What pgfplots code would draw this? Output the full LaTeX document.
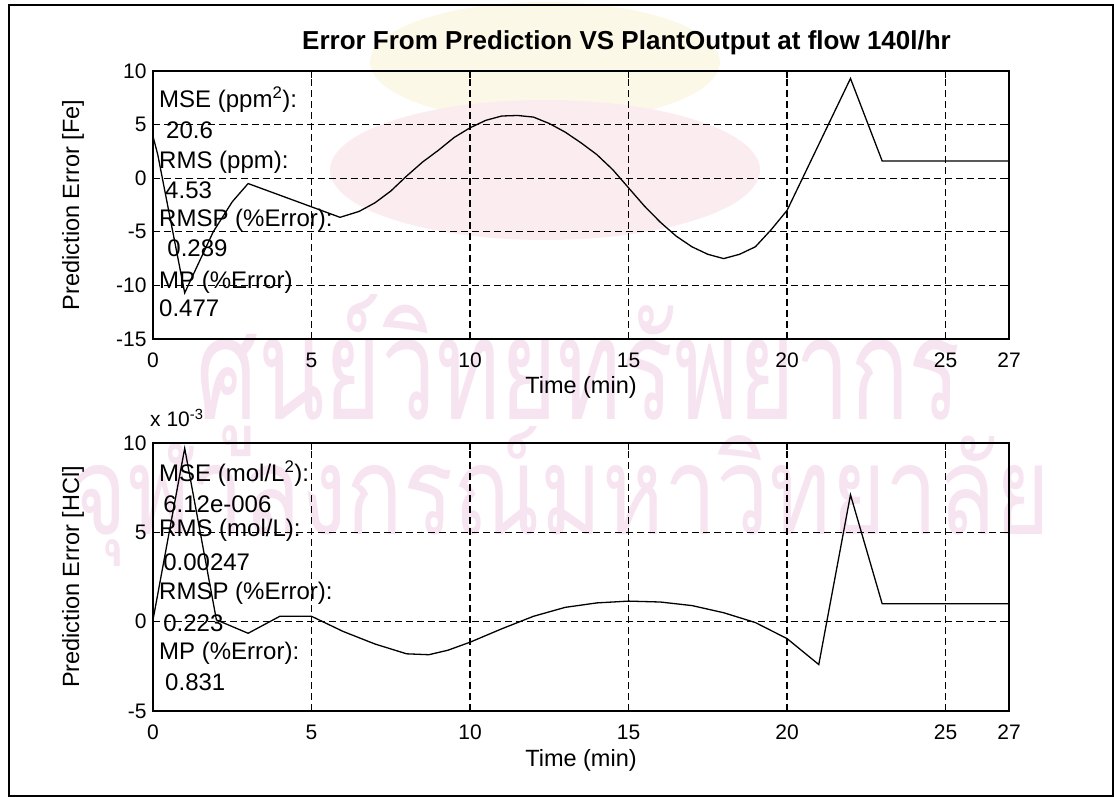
\documentclass[border=0pt]{standalone}
\usepackage{fontspec}
\setmainfont{Liberation Sans}
\newfontfamily\thaifont[Script=Thai]{Loma}
\usepackage{graphicx}
\usepackage{pgfplots}
\pgfplotsset{compat=1.18}
\definecolor{wmpink}{RGB}{247,228,241}
\definecolor{wmred}{RGB}{251,236,240}
\definecolor{wmyel}{RGB}{252,248,232}

\pgfplotsset{
  matstyle/.style={
    scale only axis, width=856pt, height=268pt,
    xmin=0, xmax=27,
    xtick={0,5,10,15,20,25,27},
    grid=major,
    major grid style={black, line width=1.2pt, dash pattern=on 7pt off 4pt},
    axis line style={black, line width=1.8pt},
    tick align=inside, major tick length=7pt,
    tick style={black, line width=1.2pt},
    /pgf/number format/assume math mode=true,
    ticklabel style={font=\fontsize{21}{21}\selectfont},
    xticklabel style={anchor=center, yshift=-21pt},
    yticklabel style={xshift=-3pt},
    label style={font=\fontsize{23.5}{24}\selectfont},
    axis background/.style={fill=none},
  },
}
\tikzset{annot/.style={anchor=west, inner sep=0pt, font=\fontsize{24}{24}\selectfont}}

\begin{document}
\begin{tikzpicture}[x=1pt,y=1pt]
\path[use as bounding box] (0,0) rectangle (1114,797);

% scanned-page watermark (faint)
\fill[wmyel] (545,735) ellipse [x radius=175, y radius=60];
\fill[wmred] (545,627) ellipse [x radius=215, y radius=70];
\node[anchor=base west, inner sep=0pt, text=wmpink] at (196,377)
  {\resizebox{765pt}{125pt}{\thaifont ศูนย์วิทยทรัพยากร}};
\node[anchor=base west, inner sep=0pt, text=wmpink] at (72,262)
  {\resizebox{978pt}{108pt}{\thaifont จุฬาลงกรณ์มหาวิทยาลัย}};

% figure frame
\draw[line width=2pt] (9,1) rectangle (1113,792);

% title
\node[anchor=west, inner sep=0pt, font=\fontsize{26}{26}\selectfont\bfseries] at (302,754)
  {Error From Prediction VS PlantOutput at flow 140l/hr};

% ---------- top axis ----------
\begin{axis}[matstyle,
  at={(153pt,458pt)}, anchor=south west,
  ymin=-15, ymax=10, ytick={-15,-10,-5,0,5,10},
  xlabel={Time (min)},
  xlabel style={at={(axis description cs:0.5,-0.179)}, anchor=center},
  ylabel={Prediction Error [Fe]},
  ylabel style={at={(axis description cs:-0.0935,0.5)}, anchor=center},
]
\addplot[black, line width=1.3pt, mark=none] coordinates {
(0,3.9) (0.15,2.2) (1.0,-10.7) (1.9,-5.0) (2.5,-2.2) (3.0,-0.5)
(5.9,-3.65) (6.5,-3.1) (7.0,-2.3) (7.5,-1.2) (8.0,0.2) (8.5,1.5)
(9.0,2.6) (9.5,3.8) (10.0,4.7) (10.5,5.4) (11.0,5.8) (11.5,5.85)
(12.0,5.7) (12.5,5.1) (13.0,4.3) (13.5,3.3) (14.0,2.2) (14.5,0.8)
(15.0,-0.9) (15.5,-2.6) (16.0,-4.1) (16.5,-5.4) (17.0,-6.4) (17.5,-7.1)
(18.0,-7.5) (18.5,-7.1) (19.0,-6.4) (19.5,-4.8) (20.0,-3.0)
(22.0,9.3) (23.0,1.6) (27.0,1.6)
};
\node[annot] at (axis cs:0.19,7.3) {MSE (ppm\textsuperscript{2}):};
\node[annot] at (axis cs:0.41,4.5) {20.6};
\node[annot] at (axis cs:0.19,1.5) {RMS (ppm):};
\node[annot] at (axis cs:0.38,-1.1) {4.53};
\node[annot] at (axis cs:0.19,-3.9) {RMSP (\%Error):};
\node[annot] at (axis cs:0.45,-6.5) {0.289};
\node[annot] at (axis cs:0.19,-9.7) {MP (\%Error)};
\node[annot] at (axis cs:0.19,-12.1) {0.477};
\end{axis}

% ---------- bottom axis ----------
\begin{axis}[matstyle,
  at={(153pt,86pt)}, anchor=south west,
  ymin=-5, ymax=10, ytick={-5,0,5,10},
  xlabel={Time (min)},
  xlabel style={at={(axis description cs:0.5,-0.183)}, anchor=center},
  ylabel={Prediction Error [HCl]},
  ylabel style={at={(axis description cs:-0.0935,0.5)}, anchor=center},
]
\addplot[black, line width=1.3pt, mark=none] coordinates {
(0,0.1) (1.0,9.7) (2.0,0.1) (3.0,-0.65) (4.0,0.3) (5.0,0.3)
(6.0,-0.55) (7.0,-1.25) (8.0,-1.8) (8.7,-1.85) (9.3,-1.6) (10.0,-1.15)
(11.0,-0.4) (12.0,0.3) (13.0,0.8) (14.0,1.05) (15.0,1.15) (16.0,1.1)
(17.0,0.9) (18.0,0.5) (19.0,-0.05) (20.0,-0.95) (21.0,-2.4)
(22.0,7.1) (23.0,1.0) (27.0,1.0)
};
\node[annot] at (axis cs:0.19,8.3) {MSE (mol/L\textsuperscript{2}):};
\node[annot] at (axis cs:0.32,6.6) {6.12e-006};
\node[annot] at (axis cs:0.19,5.1) {RMS (mol/L):};
\node[annot] at (axis cs:0.32,3.3) {0.00247};
\node[annot] at (axis cs:0.19,1.6) {RMSP (\%Error):};
\node[annot] at (axis cs:0.32,-0.07) {0.223};
\node[annot] at (axis cs:0.19,-1.75) {MP (\%Error):};
\node[annot] at (axis cs:0.38,-3.4) {0.831};
\end{axis}

% axis multiplier
\node[anchor=west, inner sep=0pt, font=\fontsize{21}{21}\selectfont] at (150,379)
  {x 10\textsuperscript{-3}};
\end{tikzpicture}
\end{document}
